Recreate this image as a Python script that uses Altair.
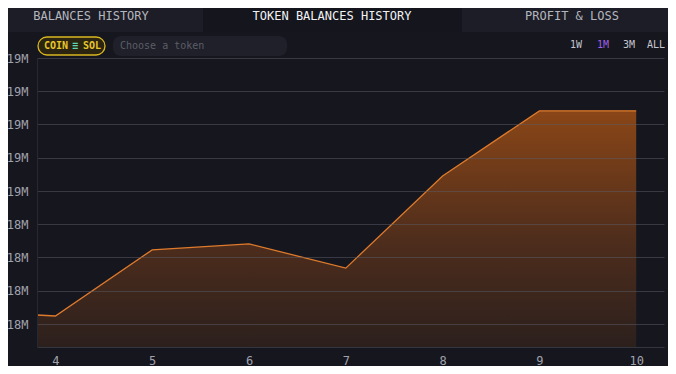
import altair as alt
import pandas as pd

# ---- data (values in millions of tokens) ----
days = [3.81, 4.0, 5, 6, 7, 8, 9, 10]
balances = [18.127, 18.124, 18.323, 18.341, 18.268, 18.545, 18.741, 18.741]
x_ticks = [4, 5, 6, 7, 8, 9, 10]
y_ticks = [18.1, 18.2, 18.3, 18.4, 18.5, 18.6, 18.7, 18.8, 18.9]
tabs = ["BALANCES HISTORY", "TOKEN BALANCES HISTORY", "PROFIT & LOSS"]
ranges = ["1W", "1M", "3M", "ALL"]

MONO = "DejaVu Sans Mono"
BG = "#16161f"
W, H = 627, 289
LEFT, TOP = 29, 50
Y_MIN = 18.9 - H / 332.5

df = pd.DataFrame({"day": days, "balance": balances})
df["base"] = Y_MIN


def box(x1, x2, y1, y2, fill, stroke=None, radius=0):
    kw = dict(fill=fill, cornerRadius=radius)
    if stroke:
        kw.update(stroke=stroke, strokeWidth=1.3)
    return alt.Chart(alt.Data(values=[{}])).mark_rect(**kw).encode(
        x=alt.value(x1 - LEFT), x2=alt.value(x2 - LEFT),
        y=alt.value(y1 - TOP), y2=alt.value(y2 - TOP))


def label(text, x, y, color, size=12, align="center", weight="normal"):
    return alt.Chart(alt.Data(values=[{"t": text}])).mark_text(
        font=MONO, fontSize=size, color=color, align=align,
        baseline="middle", fontWeight=weight).encode(
        x=alt.value(x - LEFT), y=alt.value(y - TOP), text="t:N")


x = alt.X("day:Q", scale=alt.Scale(domain=[3.81, 3.81 + W / 96.8], nice=False, zero=False),
          axis=alt.Axis(values=x_ticks, title=None, grid=False, ticks=False,
                        domainColor="#34363f", labelColor="#a0a3ac", labelFont=MONO,
                        labelFontSize=12, labelPadding=8, format="d"))
y = alt.Y("balance:Q", scale=alt.Scale(domain=[Y_MIN, 18.9], nice=False, zero=False),
          axis=alt.Axis(values=y_ticks, title=None, ticks=False, grid=True,
                        gridColor="#5a5c66", gridOpacity=0.5, zindex=1,
                        domainColor="#262833", labelColor="#a0a3ac", labelFont=MONO,
                        labelFontSize=12, labelPadding=9,
                        labelExpr="round(datum.value) + 'M'"))

grad = alt.Gradient(gradient="linear",
                    stops=[alt.GradientStop(color="#8a4617", offset=0),
                           alt.GradientStop(color="#4e2d1c", offset=0.55),
                           alt.GradientStop(color="#2c201d", offset=1)],
                    x1=0, x2=0, y1=0, y2=1)

area = alt.Chart(df).mark_area(fill=grad, fillOpacity=1, clip=True).encode(
    x=x, y=y, y2="base:Q")
line = alt.Chart(df).mark_line(color="#dd7a2c", strokeWidth=1.3).encode(x=x, y=y)

layers = [
    # tab bar
    box(-40, 195, -40, 24, "#1c1d26"),
    box(195, 454, -40, 24, "#14151d"),
    box(454, 700, -40, 24, "#1c1d26"),
    label(tabs[0], 83, 8, "#b4b6be"),
    label(tabs[1], 324, 8, "#f2f2f4"),
    label(tabs[2], 564, 8, "#b4b6be"),
    # token pill
    box(30, 97, 29, 47, "#2a2410", stroke="#d9b71f", radius=9),
    label("COIN", 36, 38, "#e8c62a", size=10, align="left", weight="bold"),
    label("≡", 67, 38, "#5fd6b4", size=10, weight="bold"),
    label("SOL", 75, 38, "#e8c62a", size=10, align="left", weight="bold"),
    # search box
    box(105, 279, 28, 48, "#1f2029", radius=8),
    label("Choose a token", 112, 38, "#5c5e68", size=10, align="left"),
    # range buttons
    label(ranges[0], 568, 37, "#c4c6ce", size=10),
    label(ranges[1], 595, 37, "#9d5fe6", size=10),
    label(ranges[2], 621, 37, "#c4c6ce", size=10),
    label(ranges[3], 648, 37, "#c4c6ce", size=10),
    area,
    line,
]

chart = alt.layer(*layers).properties(
    width=W, height=H, background=BG,
    autosize=alt.AutoSizeParams(type="none"),
    padding={"left": LEFT, "top": TOP, "right": 4, "bottom": 19},
).configure_view(stroke=None)

chart.save("out.html", embed_options={"renderer": "svg", "actions": False})
